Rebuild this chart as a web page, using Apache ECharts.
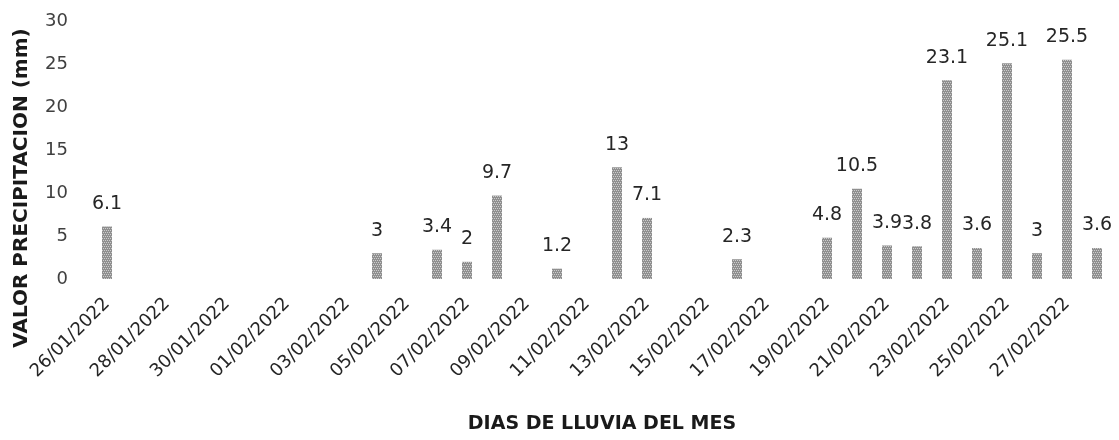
<!DOCTYPE html>
<html>
<head>
<meta charset="utf-8">
<script src="https://cdn.jsdelivr.net/npm/echarts@6/dist/echarts.min.js"></script>
<style>
html,body{margin:0;padding:0;background:#fff;}
#chart{width:1119px;height:440px;}
</style>
</head>
<body>
<div id="chart"></div>
<script>
// Dates from 26/01/2022 to 28/02/2022
const categories = [
  "26/01/2022","27/01/2022","28/01/2022","29/01/2022","30/01/2022","31/01/2022",
  "01/02/2022","02/02/2022","03/02/2022","04/02/2022","05/02/2022","06/02/2022",
  "07/02/2022","08/02/2022","09/02/2022","10/02/2022","11/02/2022","12/02/2022",
  "13/02/2022","14/02/2022","15/02/2022","16/02/2022","17/02/2022","18/02/2022",
  "19/02/2022","20/02/2022","21/02/2022","22/02/2022","23/02/2022","24/02/2022",
  "25/02/2022","26/02/2022","27/02/2022","28/02/2022"
];
// Precipitation (mm); null = no rain recorded
const rainfall = [
  6.1, null, null, null, null, null,
  null, null, null, 3, null, 3.4,
  2, 9.7, null, 1.2, null, 13,
  7.1, null, null, 2.3, null, null,
  4.8, 10.5, 3.9, 3.8, 23.1, 3.6,
  25.1, 3, 25.5, 3.6
];
const yTicks = { min: 0, max: 30, interval: 5 };
const yTitle = "VALOR PRECIPITACION (mm)";
const xTitle = "DIAS DE LLUVIA DEL MES";

const FONT = "DejaVu Sans";
const chart = echarts.init(document.getElementById('chart'), null, {renderer:'canvas'});
chart.setOption({
  animation: false,
  backgroundColor: '#ffffff',
  aria: { enabled: true, decal: { show: true } },
  grid: { left: 92, right: 7, top: 21, bottom: 161 },
  xAxis: {
    type: 'category',
    data: categories,
    name: xTitle,
    nameLocation: 'middle',
    nameGap: 136,
    nameTextStyle: { fontFamily: FONT, fontSize: 19, fontWeight: 'bold', color: '#1a1a1a' },
    axisLine: { show: false },
    axisTick: { show: false },
    axisLabel: {
      interval: 1,
      rotate: 45,
      margin: 22,
      fontFamily: FONT,
      fontSize: 18,
      color: '#262626'
    }
  },
  yAxis: {
    type: 'value',
    min: yTicks.min,
    max: yTicks.max,
    interval: yTicks.interval,
    axisLine: { show: false },
    axisTick: { show: false },
    splitLine: { show: false },
    axisLabel: { margin: 24, fontFamily: FONT, fontSize: 18, color: '#404040' }
  },
  graphic: [{
    type: 'text',
    x: 22,
    y: 188,
    rotation: Math.PI / 2,
    style: {
      text: yTitle,
      font: 'bold 20px "' + FONT + '"',
      fill: '#1a1a1a',
      textAlign: 'center',
      textVerticalAlign: 'middle'
    }
  }],
  series: [{
    type: 'bar',
    data: rainfall,
    barWidth: 10,
    itemStyle: {
      color: '#8f8f8f',
      decal: {
        symbol: 'rect',
        symbolSize: 1,
        dashArrayX: [[1, 1], [0, 1, 1, 0]],
        dashArrayY: [1, 1],
        color: 'rgba(255,255,255,0.55)',
        rotation: 0
      }
    },
    label: {
      show: true,
      position: 'top',
      distance: 13,
      fontFamily: FONT,
      fontSize: 19,
      color: '#262626'
    }
  }]
});
</script>
</body>
</html>
